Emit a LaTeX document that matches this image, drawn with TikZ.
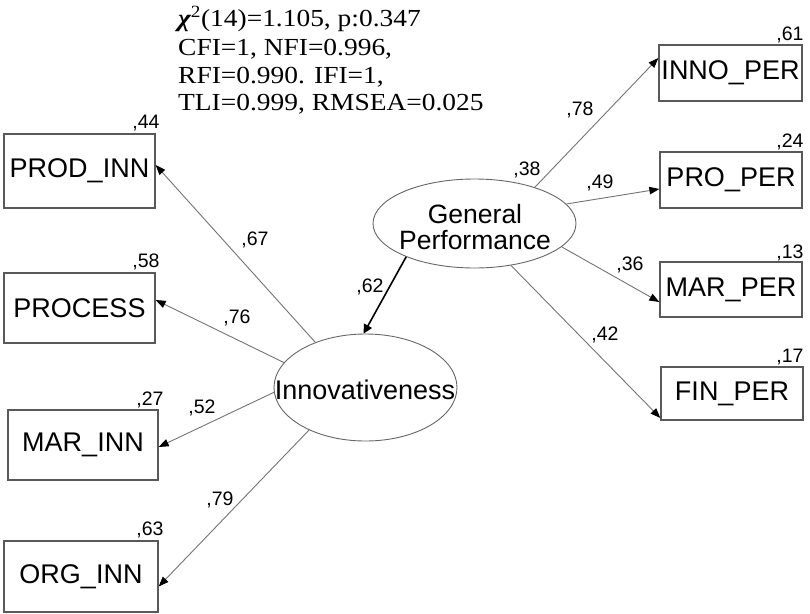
\documentclass[tikz,border=0pt]{standalone}
\usepackage{fontspec}
\setmainfont{Liberation Serif}
\newfontfamily\arialfont{Liberation Sans}
\newfontfamily\fitfont[FakeStretch=1.12]{Liberation Serif}
\usetikzlibrary{arrows.meta,shapes.geometric}

\tikzset{
  obsbox/.style={draw=black!65, line width=1.3pt, rectangle, inner sep=0pt,
    font=\arialfont\fontsize{27}{30}\selectfont},
  latent/.style={draw=black!60, line width=0.9pt, ellipse, inner sep=0pt},
  latentname/.style={font=\arialfont\fontsize{26.5}{26}\selectfont, align=center, inner sep=0pt},
  coef/.style={font=\arialfont\fontsize{19.5}{20}\selectfont, inner sep=0pt},
  fitline/.style={font=\fitfont\fontsize{24.5}{27}\selectfont, inner sep=0pt, anchor=base west},
  loading/.style={draw=black!55, line width=0.9pt,
    -{Triangle[length=10pt,width=7.5pt,color=black]}},
  structural/.style={draw=black, line width=1.6pt,
    -{Triangle[length=9pt,width=9pt,color=black]}}
}

\begin{document}
\begin{tikzpicture}[x=1pt,y=-1pt]
\useasboundingbox (0,0) rectangle (810,613);

% fit statistics
\node[fitline] (fit1) at (178,27) {{\bfseries\itshape χ}\textsuperscript{2}(14)=1.105, p:0.347};
\node[fitline] (fit2) at (178,55) {CFI=1, NFI=0.996,};
\node[fitline] (fit3) at (178,83) {RFI=0.990. IFI=1,};
\node[fitline] (fit4) at (178,110) {TLI=0.999, RMSEA=0.025};

% observed indicators of innovativeness
\node[obsbox, minimum width=151pt, minimum height=74pt] (prod) at (79.5,171) {PROD\_INN};
\node[obsbox, minimum width=151pt, minimum height=70pt] (process) at (79.5,308) {PROCESS};
\node[obsbox, minimum width=150pt, minimum height=70pt] (marinn) at (83,445) {MAR\_INN};
\node[obsbox, minimum width=154pt, minimum height=71pt] (orginn) at (81,576.5) {ORG\_INN};

% observed indicators of performance
\node[obsbox, minimum width=143pt, minimum height=56pt] (innoper) at (730.5,73) {INNO\_PER};
\node[obsbox, minimum width=142pt, minimum height=56pt] (proper) at (731,180) {PRO\_PER};
\node[obsbox, minimum width=142pt, minimum height=55pt] (marper) at (731,289.5) {MAR\_PER};
\node[obsbox, minimum width=142pt, minimum height=53pt] (finper) at (732,393.5) {FIN\_PER};

% latent constructs: outline first, name set on top
\node[latent, minimum width=203pt, minimum height=89pt] (gp) at (474.5,223.5) {};
\node[latentname] (gpname) at (475,227) {General\\Performance};
\node[latent, minimum width=183pt, minimum height=107pt] (innov) at (365.5,387.5) {};
\node[latentname, font=\arialfont\fontsize{27}{27}\selectfont] (innovname) at (365,390) {Innovativeness};

% squared multiple correlations
\node[coef] (r44) at (146,123) {,44};
\node[coef] (r58) at (146,262) {,58};
\node[coef] (r27) at (150,400) {,27};
\node[coef] (r63) at (150,530) {,63};
\node[coef] (r61) at (790,35) {,61};
\node[coef] (r24) at (790,142) {,24};
\node[coef] (r13) at (790,253) {,13};
\node[coef] (r17) at (790,357) {,17};
\node[coef] (r38) at (527,170) {,38};

% loadings of innovativeness
\draw[loading] (innov.138) -- ([yshift=6pt]prod.east);
\draw[loading] (innov.163.6) -- ([yshift=8pt]process.east);
\draw[loading] (innov.183.4) -- ([yshift=-2pt]marinn.east);
\draw[loading] (innov.217) -- ([yshift=-10pt]orginn.east);

% structural path
\draw[structural] (gp.206.7) -- (innov.92);

% loadings of general performance
\draw[loading] (gp.31.8) -- ([yshift=15pt]innoper.west);
\draw[loading] (gp.12.5) -- ([yshift=-9pt]proper.west);
\draw[loading] (gp.-15.5) -- ([yshift=-12.5pt]marper.west);
\draw[loading] (gp.-49.2) -- ([yshift=-24.5pt]finper.west);

% path coefficients
\node[coef] (c67) at (255,240) {,67};
\node[coef] (c76) at (237,318) {,76};
\node[coef] (c52) at (202,408) {,52};
\node[coef] (c79) at (220,500) {,79};
\node[coef] (c62) at (370,287) {,62};
\node[coef] (c78) at (580,110) {,78};
\node[coef] (c49) at (600,183) {,49};
\node[coef] (c36) at (630,265) {,36};
\node[coef] (c42) at (605,335) {,42};
\end{tikzpicture}
\end{document}
